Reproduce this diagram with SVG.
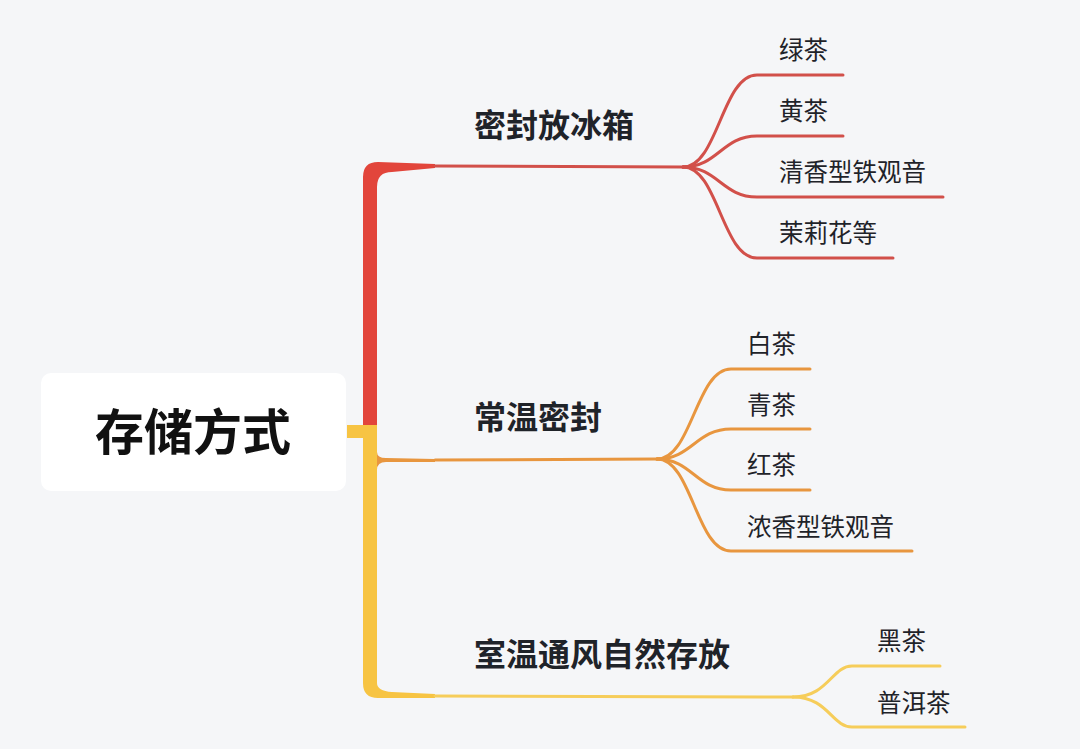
<svg xmlns="http://www.w3.org/2000/svg" width="1080" height="749" viewBox="0 0 1080 749">
<style>
.t{font-family:"Noto Sans CJK SC","Noto Sans",sans-serif;fill:#1f2329}
.root{font-size:49px;font-weight:700;fill:#111}
.main{font-size:32px;font-weight:700}
.leaf{font-size:24.5px}
.r{fill:none;stroke:#d2504a;stroke-width:3;stroke-linecap:round}
.o{fill:none;stroke:#e8963f;stroke-width:3;stroke-linecap:round}
.y{fill:none;stroke:#f6cd5a;stroke-width:3;stroke-linecap:round}
</style>
<rect width="1080" height="749" fill="#f5f6f8"/>
<g id="connectors">
  <path d="M363,425 L363,177 Q363,162 378,162 L435,164 L435,168 L392,172 Q377,172 377,187 L377,425 Z" fill="#e2453b"/>
  <path d="M347,425 L377,425 L377,683 Q377,691 392,692 L435,694 L435,698 L378,698 Q363,698 363,683 L363,438 L347,438 Z" fill="#f7c443"/>
  <path d="M377,452 Q377,458 386,458 L435,459 L435,462 L386,462 Q377,462 377,470 Z" fill="#e8963f"/>
  <path class="r" d="M435,166 L683,167"/>
  <path class="r" d="M683,167 C718,167 722,75 757,75 L843,75"/>
  <path class="r" d="M683,167 C718,167 722,136 757,136 L843,136"/>
  <path class="r" d="M683,167 C718,167 722,197 757,197 L943,197"/>
  <path class="r" d="M683,167 C718,167 722,258 757,258 L893,258"/>
  <path class="o" d="M435,460 L657,459"/>
  <path class="o" d="M657,459 C692,459 696,369 731,369 L810,369"/>
  <path class="o" d="M657,459 C692,459 696,429 731,429 L810,429"/>
  <path class="o" d="M657,459 C692,459 696,490 731,490 L810,490"/>
  <path class="o" d="M657,459 C692,459 696,551 731,551 L912,551"/>
  <path class="y" d="M435,696 L793,697"/>
  <path class="y" d="M793,697 C828,697 832,666 852,666 L940,666"/>
  <path class="y" d="M793,697 C828,697 832,727 852,727 L965,727"/>
</g>
<g id="root">
  <rect x="41" y="373" width="305" height="118" rx="10" fill="#ffffff"/>
  <text class="t root" x="95" y="450">存储方式</text>
</g>
<g id="n-fridge"><text class="t main" x="474" y="137">密封放冰箱</text></g>
<g id="n-room"><text class="t main" x="474" y="429">常温密封</text></g>
<g id="n-vent"><text class="t main" x="474" y="666">室温通风自然存放</text></g>
<g id="l1"><text class="t leaf" x="779" y="59">绿茶</text></g>
<g id="l2"><text class="t leaf" x="779" y="120">黄茶</text></g>
<g id="l3"><text class="t leaf" x="779" y="181">清香型铁观音</text></g>
<g id="l4"><text class="t leaf" x="779" y="242">茉莉花等</text></g>
<g id="l5"><text class="t leaf" x="747" y="353">白茶</text></g>
<g id="l6"><text class="t leaf" x="747" y="414">青茶</text></g>
<g id="l7"><text class="t leaf" x="747" y="474">红茶</text></g>
<g id="l8"><text class="t leaf" x="747" y="536">浓香型铁观音</text></g>
<g id="l9"><text class="t leaf" x="877" y="650">黑茶</text></g>
<g id="l10"><text class="t leaf" x="877" y="712">普洱茶</text></g>
</svg>
